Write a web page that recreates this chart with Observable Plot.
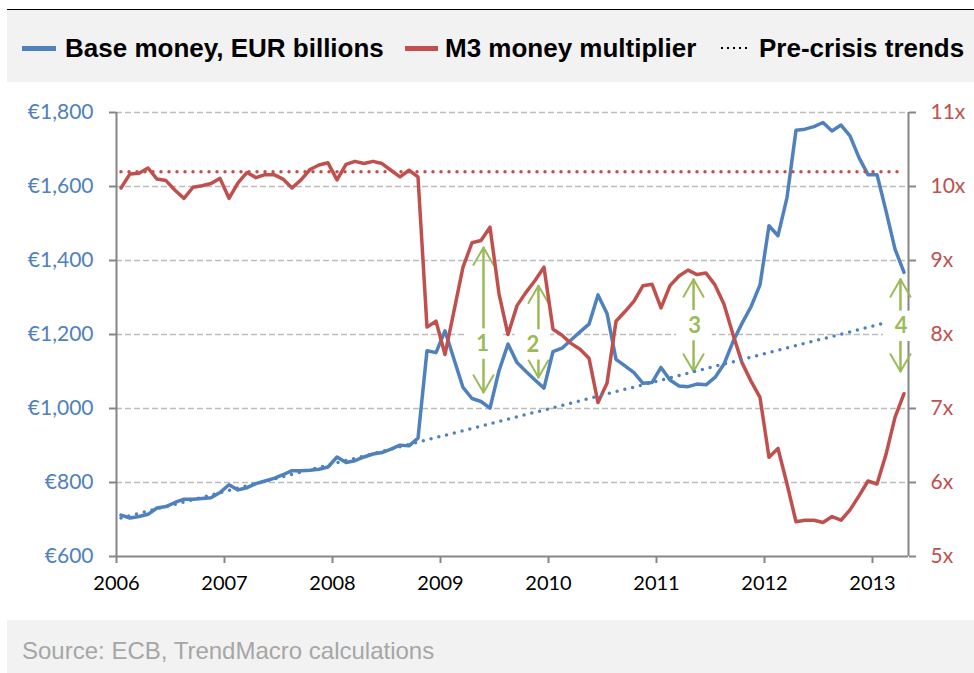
<!DOCTYPE html>
<html><head><meta charset="utf-8">
<script src="https://cdn.jsdelivr.net/npm/d3@7"></script>
<script src="https://cdn.jsdelivr.net/npm/@observablehq/plot@0.6"></script>
<style>
html,body{margin:0;padding:0;background:#fff;}
#page{width:974px;height:673px;overflow:hidden;position:relative;}
#topgap{height:9px;}
#legend{position:relative;margin-left:7px;width:967px;height:73px;background:#f2f2f2;border-top:1.5px solid #000;box-sizing:border-box;font-family:"Liberation Sans",Arial,sans-serif;font-weight:bold;font-size:26px;color:#000;}
#legend .sw{position:absolute;top:36px;height:5px;}
#legend .lt{position:absolute;top:23px;white-space:nowrap;line-height:30px;}
#legend svg.dots{position:absolute;top:35px;}
#chart svg{display:block;}
#source{margin-left:7px;width:967px;height:53px;background:#f2f2f2;font-family:"Liberation Sans",Arial,sans-serif;font-size:24px;color:#a6a6a6;box-sizing:border-box;padding:17px 0 0 15px;line-height:28px;}
</style>
</head><body>
<div id="page">
  <div id="topgap"></div>
  <div id="legend"></div>
  <div id="chart"></div>
  <div id="source">Source: ECB, TrendMacro calculations</div>
</div>
<script>
// ---- data ----
const startYear = 2006;           // first month: Jan 2006
const monthCount = 88;            // Jan 2006 .. Apr 2013
const baseMoney = [
  712, 704, 708, 714, 731, 735, 746, 755, 755, 757, 759, 773,
  794, 780, 786, 797, 804, 811, 821, 832, 832, 833, 836, 842,
  869, 854, 859, 869, 877, 881, 890, 901, 899, 920, 1156, 1151,
  1210, 1133, 1057, 1027, 1019, 1001, 1102, 1174, 1124, 1100, 1077, 1055,
  1154, 1163, 1185, 1207, 1228, 1307, 1257, 1133, 1115, 1097, 1068, 1070,
  1111, 1077, 1061, 1059, 1066, 1064, 1084, 1120, 1181, 1230, 1275, 1334,
  1494, 1467, 1570, 1752, 1755, 1762, 1773, 1750, 1766, 1737, 1678, 1632,
  1632, 1534, 1431, 1368
];
const m3Multiplier = [
  9.98, 10.17, 10.18, 10.25, 10.10, 10.08, 9.95, 9.84, 9.99, 10.01, 10.04, 10.11,
  9.84, 10.05, 10.19, 10.12, 10.16, 10.16, 10.10, 9.98, 10.09, 10.23, 10.29, 10.32,
  10.09, 10.30, 10.34, 10.31, 10.34, 10.31, 10.22, 10.13, 10.22, 10.13, 8.10, 8.18,
  7.73, 8.32, 8.91, 9.24, 9.27, 9.45, 8.55, 8.00, 8.39, 8.57, 8.73, 8.91,
  8.07, 7.99, 7.88, 7.80, 7.68, 7.08, 7.34, 8.18, 8.31, 8.45, 8.66, 8.68,
  8.36, 8.66, 8.79, 8.87, 8.81, 8.83, 8.67, 8.41, 8.00, 7.62, 7.37, 7.15,
  6.34, 6.46, 5.98, 5.47, 5.49, 5.49, 5.46, 5.54, 5.49, 5.63, 5.82, 6.02,
  5.98, 6.38, 6.88, 7.20
];
// pre-crisis trends (end points, month index)
const baseTrendMonths = [0, 85];
const baseTrendValues = [704, 1232];
const multTrendMonths = [0, 87];
const multTrendValues = [10.2, 10.2];
// axes
const yearTicks = [2006, 2007, 2008, 2009, 2010, 2011, 2012, 2013];
const leftTicks = [600, 800, 1000, 1200, 1400, 1600, 1800];
const rightTicks = [5, 6, 7, 8, 9, 10, 11];
// annotations (x in decimal years, y in left-axis units)
const annLabels = ["1", "2", "3", "4"];
const annX = [2009.398, 2009.907, 2011.343, 2013.259];
const annLabelX = [2009.389, 2009.855, 2011.352, 2013.266];
const annTop = [1435, 1332, 1349, 1349];
const annBottom = [1043, 1084, 1100, 1100];
const annLabelY = [1174, 1172, 1224, 1222];

// ---- helpers ----
const blue = "#4F81BD", red = "#C0504D", green = "#9BBB59", axisGray = "#868686";
const monthX = i => startYear + (i + 0.5) / 12;
const xMax = startYear + monthCount / 12;
const rToL = r => 600 + (r - 5) * 200;   // right axis (multiplier) -> left axis units
const lToR = v => (v - 600) / 200 + 5;

const baseData = baseMoney.map((v, i) => ({x: monthX(i), y: v}));
const multData = m3Multiplier.map((v, i) => ({x: monthX(i), y: rToL(v)}));
const baseTrend = baseTrendMonths.map((m, i) => ({x: monthX(m), y: baseTrendValues[i]}));
const multTrend = multTrendMonths.map((m, i) => ({x: monthX(m), y: rToL(multTrendValues[i])}));
const ann = annLabels.map((t, i) => ({t, x: annX[i], lx: annLabelX[i], top: annTop[i], bot: annBottom[i], ly: annLabelY[i]}));

// ---- legend ----
const legend = document.getElementById("legend");
legend.innerHTML = `
  <span class="sw" style="left:15px;width:34px;background:${blue}"></span>
  <span class="lt" style="left:58px">Base money, EUR billions</span>
  <span class="sw" style="left:398px;width:33px;background:${red}"></span>
  <span class="lt" style="left:438px">M3 money multiplier</span>
  <svg class="dots" style="left:712px" width="30" height="6"><line x1="2" y1="3" x2="28" y2="3" stroke="#000" stroke-width="2" stroke-dasharray="2 4"/></svg>
  <span class="lt" style="left:752px">Pre-crisis trends</span>`;

// ---- chart ----
const fmtEuro = d => "€" + d3.format(",")(d);
const chart = Plot.plot({
  width: 974,
  height: 538,
  marginLeft: 116,
  marginRight: 66,
  marginTop: 30,
  marginBottom: 64,
  x: {domain: [startYear, xMax]},
  y: {domain: [600, 1800]},
  style: {fontFamily: "Lato, 'Open Sans', sans-serif", background: "white", overflow: "visible"},
  marks: [
    Plot.ruleY(leftTicks.filter(d => d > 600), {stroke: "#BCBCBC", strokeWidth: 1.5, strokeDasharray: "6,3"}),
    Plot.ruleY([600], {stroke: axisGray, strokeWidth: 2}),
    Plot.ruleX([startYear, xMax], {stroke: axisGray, strokeWidth: 2}),
    Plot.axisY({ticks: leftTicks, anchor: "left", tickSize: 7, tickPadding: 16, stroke: axisGray, strokeWidth: 2,
      fill: blue, fontSize: 21, tickFormat: fmtEuro, label: null}),
    Plot.axisY({ticks: rightTicks.map(rToL), anchor: "right", tickSize: 7, tickPadding: 15, stroke: axisGray, strokeWidth: 2,
      fill: red, fontSize: 21, tickFormat: d => Math.round(lToR(d)) + "x", label: null}),
    Plot.axisX({ticks: yearTicks, anchor: "bottom", tickSize: 7, tickPadding: 12, stroke: axisGray, strokeWidth: 2,
      fill: "#000", fontSize: 20, tickFormat: d => String(d), label: null}),
    // annotation arrows
    Plot.arrow(ann, {x1: "x", x2: "x", y1: "bot", y2: "top", stroke: green, strokeWidth: 2, headLength: 15, headAngle: 60}),
    Plot.arrow(ann, {x1: "x", x2: "x", y1: "top", y2: "bot", stroke: green, strokeWidth: 2, headLength: 15, headAngle: 60}),
    Plot.rect(ann, {x1: d => d.lx - 0.165, x2: d => d.lx + 0.165, y1: d => d.ly - 41, y2: d => d.ly + 41, fill: "white"}),
    Plot.text(ann, {x: "lx", y: "ly", text: "t", fill: green, fontWeight: "bold", fontSize: 22}),
    // series
    Plot.line(baseData, {x: "x", y: "y", stroke: blue, strokeWidth: 3.5, strokeLinejoin: "round"}),
    Plot.line(multData, {x: "x", y: "y", stroke: red, strokeWidth: 3.5, strokeLinejoin: "round"}),
    Plot.line(baseTrend, {x: "x", y: "y", stroke: blue, strokeWidth: 3.5, strokeDasharray: "0 8", strokeLinecap: "round"}),
    Plot.line(multTrend, {x: "x", y: "y", stroke: red, strokeWidth: 3.5, strokeDasharray: "0 8", strokeLinecap: "round"})
  ]
});
document.getElementById("chart").appendChild(chart);
</script>
</body></html>
